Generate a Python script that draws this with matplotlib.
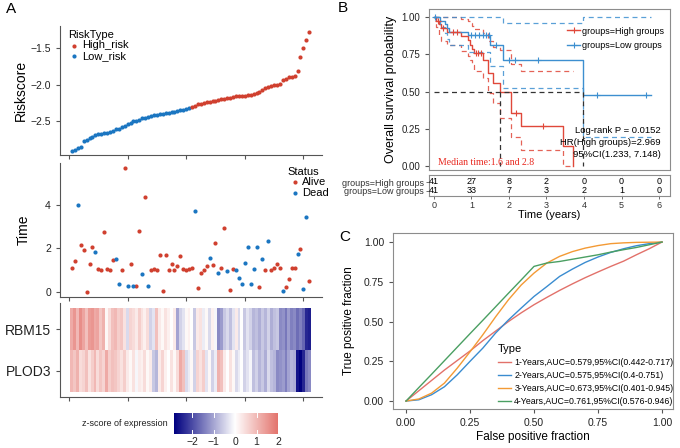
import numpy as np
import matplotlib
matplotlib.use('Agg')
import matplotlib.pyplot as plt
from matplotlib.colors import LinearSegmentedColormap, Normalize
from matplotlib.lines import Line2D

plt.rcParams['font.family'] = ['Liberation Sans', 'DejaVu Sans']

# ---------------- data: panel A ----------------
risk_low = [-2.90, -2.89, -2.86, -2.85, -2.77, -2.75, -2.73, -2.71, -2.69, -2.68,
            -2.67, -2.66, -2.66, -2.64, -2.63, -2.61, -2.60, -2.58, -2.56, -2.54,
            -2.52, -2.50, -2.49, -2.48, -2.46, -2.45, -2.44, -2.43, -2.42, -2.41,
            -2.40, -2.40, -2.39, -2.39, -2.38, -2.37, -2.36, -2.35, -2.34, -2.33, -2.32]
risk_high = [-2.30, -2.29, -2.27, -2.26, -2.25, -2.24, -2.24, -2.23, -2.22, -2.21,
             -2.20, -2.19, -2.18, -2.18, -2.17, -2.16, -2.16, -2.15, -2.15, -2.14,
             -2.14, -2.13, -2.12, -2.10, -2.07, -2.04, -2.03, -2.02, -2.01, -2.00,
             -1.99, -1.93, -1.92, -1.90, -1.89, -1.88, -1.81, -1.62, -1.50, -1.39, -1.28]

surv_time = [1.11, 1.42, 4.00, 2.14, 1.95, 0.00, 1.28, 2.09, 1.86, 1.05,
             1.02, 2.77, 1.06, 1.00, 1.49, 1.52, 0.35, 1.02, 5.68, 0.29,
             1.28, 0.28, 0.28, 2.82, 0.82, 4.35, 0.29, 1.00, 1.05, 1.02,
             1.72, 0.03, 1.69, 1.00, 1.28, 1.00, 1.20, 1.66, 1.08, 1.00,
             1.05, 1.11, 3.72, 0.17, 0.88, 1.02, 1.20, 1.55, 1.26, 2.25,
             0.89, 1.09, 2.92, 0.95, 0.09, 1.05, 1.02, 0.66, 0.37, 1.32,
             2.08, 0.35, 1.06, 2.08, 0.22, 1.51, 1.03, 2.34, 1.02, 1.12,
             1.29, 1.09, 0.05, 0.22, 0.62, 1.09, 1.09, 1.75, 1.98, 0.12,
             3.45, 0.51]
# 1 = dead, 0 = alive
status = [0, 0, 1, 0, 0, 0, 0, 0, 1, 0,
          0, 0, 0, 0, 0, 1, 1, 0, 0, 1,
          0, 1, 0, 0, 1, 0, 1, 0, 0, 0,
          0, 0, 0, 0, 0, 0, 0, 0, 0, 0,
          0, 0, 1, 0, 0, 0, 0, 1, 0, 0,
          1, 0, 0, 1, 0, 0, 1, 1, 1, 1,
          1, 1, 1, 1, 0, 1, 0, 1, 0, 0,
          0, 0, 1, 0, 0, 0, 0, 1, 0, 1,
          1, 0]

genes = ['RBM15', 'PLOD3']
rbm15 = [1.2, 1.5, 1.0, 1.6, 1.3, 0.9, 1.4, 1.5, 1.2, 1.3, 0.8, 1.1,
         0.1, 0.5,
         0.9, 1.0, 0.7, 0.8, 0.4,
         -0.4,
         0.6, 0.5, 0.3, 0.7, 0.4, 0.2, 0.5,
         -0.5, -0.3,
         0.9,
         0.3, 0.1, 0.4, 0.2, 0.0, 0.3,
         -1.0,
         -0.5, -0.3, 0.1,
         0.2, 0.0,
         -0.6,
         0.3, 0.4,
         -0.2, 0.1, -0.4, 0.2, -0.1,
         -1.3, -1.1,
         -0.6, -0.4, -0.7, -0.3,
         0.3,
         -0.4, 0.0, -0.6, -0.3, -0.5,
         -0.8, -0.7, -0.9, -0.6, -0.8, -0.5, -0.9, -0.7, -0.6,
         -1.3, -1.2, -1.5, -1.1, -1.4, -1.3,
         -1.6, -1.4, -1.7,
         -2.4, -2.5]
plod3 = [1.0, 0.8, 1.1, 0.5, 0.6, 0.9, 0.4, 0.7, 1.0, 0.5, 0.8, 0.6,
         1.2,
         0.7, 0.9, 0.8, 0.6, 0.4, 0.7,
         0.3, 0.1, 0.4, -0.1, 0.3, 0.2, 0.5, 0.1, 0.3,
         -0.6, -0.8,
         0.3, 0.6, 0.2, 0.0, 0.4, 0.1, 0.5,
         1.2, 0.9,
         -0.4, -0.2, 0.1, -0.5,
         0.6, 0.4, 0.7,
         -0.3, 0.1, -0.5, -0.2,
         1.1, 0.9,
         0.3, 0.0, 0.4, 0.1,
         -0.4, -0.2, 0.0, -0.5, -0.3, -0.1,
         -0.7, -0.5, -0.8, -0.6, -0.9, -0.4, -0.7, -0.8,
         -1.3, -1.2, -1.1, -1.4, -1.0,
         -0.8, -0.9,
         -2.6, -2.8, -2.4,
         -1.5, -1.3]
z_min, z_max = -2.84, 2.0

# ---------------- data: panel B ----------------
high_t = [0, 0.06, 0.13, 0.2, 0.36, 0.73, 0.92, 0.97, 1.02, 1.08, 1.31, 1.44,
          1.57, 1.75, 2.06, 2.33, 3.43, 3.7]
high_s = [1.0, 0.976, 0.951, 0.925, 0.898, 0.872, 0.845, 0.815, 0.785, 0.757,
          0.714, 0.624, 0.557, 0.495, 0.356, 0.266, 0.133, 0.0]
high_lo = [1.0, 0.93, 0.88, 0.84, 0.81, 0.77, 0.74, 0.71, 0.68, 0.64, 0.59,
           0.49, 0.42, 0.32, 0.196, 0.11, 0.0, 0.0]
high_up = [1.0, 1.0, 1.0, 1.0, 1.0, 0.99, 0.975, 0.96, 0.94, 0.92, 0.89, 0.84,
           0.80, 0.776, 0.687, 0.635, 0.635, np.nan]
high_cens = [0.1, 0.25, 0.5, 0.62, 1.12, 1.18, 1.25, 2.2, 2.9]

low_t = [0, 0.15, 0.3, 0.35, 0.4, 0.9, 1.5, 1.84, 3.96, 5.78]
low_s = [1.0, 0.976, 0.951, 0.927, 0.902, 0.878, 0.81, 0.714, 0.474, 0.474]
low_lo = [1.0, 0.93, 0.89, 0.85, 0.81, 0.765, 0.67, 0.526, 0.195, 0.195]
low_up = [1.0, 1.0, 1.0, 1.0, 1.0, 1.0, 1.0, 0.963, 1.0, 1.0]
low_cens = [0.02, 1.0, 1.1, 1.2, 1.3, 1.4, 1.48, 1.66, 2.0, 2.15, 2.77, 4.35, 5.65]

median_high, median_low = 1.75, 3.96
table_times = [0, 1, 2, 3, 4, 5, 6]
at_risk_high = [41, 27, 8, 2, 0, 0, 0]
at_risk_low = [41, 33, 7, 3, 2, 1, 0]

# ---------------- data: panel C ----------------
fpr = [0, 0.05, 0.1, 0.15, 0.2, 0.25, 0.3, 0.35, 0.4, 0.45, 0.5,
       0.55, 0.6, 0.65, 0.7, 0.75, 0.8, 0.85, 0.9, 0.95, 1.0]
tpr_1y = [0, 0.065, 0.13, 0.195, 0.255, 0.315, 0.38, 0.44, 0.5, 0.555, 0.606,
          0.652, 0.696, 0.737, 0.776, 0.812, 0.847, 0.88, 0.92, 0.958, 1.0]
tpr_2y = [0, 0.008, 0.04, 0.09, 0.165, 0.25, 0.333, 0.428, 0.51, 0.585, 0.658,
          0.72, 0.784, 0.83, 0.872, 0.906, 0.935, 0.958, 0.977, 0.99, 1.0]
tpr_3y = [0, 0.013, 0.05, 0.113, 0.207, 0.31, 0.417, 0.53, 0.637, 0.73, 0.805,
          0.868, 0.91, 0.94, 0.962, 0.978, 0.99, 0.995, 0.998, 0.999, 1.0]
tpr_4y = [0, 0.085, 0.169, 0.254, 0.339, 0.424, 0.508, 0.593, 0.678, 0.762, 0.847,
          0.868, 0.878, 0.892, 0.906, 0.92, 0.937, 0.952, 0.966, 0.983, 1.0]
roc_labels = ['1-Years,AUC=0.579,95%CI(0.442-0.717)',
              '2-Years,AUC=0.575,95%CI(0.4-0.751)',
              '3-Years,AUC=0.673,95%CI(0.401-0.945)',
              '4-Years,AUC=0.761,95%CI(0.576-0.946)']

# ---------------- layout helpers ----------------
W, H = 680, 448
def rect(l, t, r, b):
    return [l / W, 1 - b / H, (r - l) / W, (b - t) / H]

RED = '#D0402F'
BLUE = '#1B76C1'
KM_RED = '#E0483A'
KM_BLUE = '#3D8FD0'
SPINE = '#555555'
BOX = '#8C8C8C'

fig = plt.figure(figsize=(6.8, 4.48), dpi=100)

def classic(ax):
    for s in ['top', 'right']:
        ax.spines[s].set_visible(False)
    for s in ['left', 'bottom']:
        ax.spines[s].set_color(SPINE)
        ax.spines[s].set_linewidth(0.8)
    ax.tick_params(colors=SPINE, labelcolor='#222222', labelsize=7.5, length=3, width=0.8)

n = len(risk_low) + len(risk_high)
idx = np.arange(1, n + 1)
xl = (-3.07, 86.35)

# A top: risk score
ax1 = fig.add_axes(rect(60, 26, 322, 155))
classic(ax1)
ax1.scatter(idx[:len(risk_low)], risk_low, s=9, color=BLUE, lw=0, label='Low_risk')
ax1.scatter(idx[len(risk_low):], risk_high, s=9, color=RED, lw=0, label='High_risk')
ax1.set_xlim(*xl)
ax1.set_ylim(-2.96, -1.2)
ax1.set_yticks([-2.5, -2.0, -1.5])
ax1.set_xticks([0, 20, 40, 60, 80])
ax1.set_xticklabels([])
ax1.set_ylabel('Riskscore', fontsize=10, labelpad=2)
h, l = ax1.get_legend_handles_labels()
lg = ax1.legend(h[::-1], l[::-1], title='RiskType', loc='upper left',
                bbox_to_anchor=(0.0, 1.03), frameon=False, fontsize=8,
                title_fontsize=8, handletextpad=0.1, labelspacing=0.05,
                borderpad=0.2, markerscale=1.0, handlelength=1.2)
lg._legend_box.align = 'left'

# A mid: survival time
ax2 = fig.add_axes(rect(60, 163, 322, 297))
classic(ax2)
st = np.array(surv_time)
stat = np.array(status)
ax2.scatter(idx[stat == 0], st[stat == 0], s=9, color=RED, lw=0, label='Alive')
ax2.scatter(idx[stat == 1], st[stat == 1], s=9, color=BLUE, lw=0, label='Dead')
ax2.set_xlim(*xl)
ax2.set_ylim(-0.23, 5.93)
ax2.set_yticks([0, 2, 4])
ax2.set_xticks([0, 20, 40, 60, 80])
ax2.set_xticklabels([])
ax2.set_ylabel('Time', fontsize=10, labelpad=10)
lg2 = ax2.legend(title='Status', loc='upper left', bbox_to_anchor=(0.84, 1.03),
                 frameon=False, fontsize=8, title_fontsize=8, handletextpad=0.1,
                 labelspacing=0.05, borderpad=0.2, handlelength=1.2)
lg2._legend_box.align = 'left'

# A bottom: heatmap
cmap = LinearSegmentedColormap.from_list('zs', ['#000080', '#FFFFFF', '#D83A30'])
norm = Normalize(vmin=-2.84, vmax=2.84)
ax3 = fig.add_axes(rect(60, 303, 322, 397))
classic(ax3)
ax3.imshow(np.array([rbm15, plod3]), aspect='auto', cmap=cmap, norm=norm,
           extent=(0.5, n + 0.5, 1.5, -0.5), interpolation='nearest')
ax3.set_xlim(*xl)
ax3.set_ylim(1.62, -0.62)
ax3.set_yticks([0, 1])
ax3.set_yticklabels(genes, fontsize=10)
ax3.set_xticks([0, 20, 40, 60, 80])
ax3.set_xticklabels([])

# colour bar
axc = fig.add_axes(rect(174, 413, 278, 434))
grad = np.linspace(z_min, z_max, 300)[None, :]
axc.imshow(grad, aspect='auto', cmap=cmap, norm=norm, extent=(z_min, z_max, 0, 1))
for s in axc.spines.values():
    s.set_visible(False)
axc.set_yticks([])
axc.set_xticks([-2, -1, 0, 1, 2])
axc.tick_params(length=0, labelsize=7.5, labelcolor='#222222', pad=2)
for v in [-2, -1, 0, 1, 2]:
    axc.plot([v, v], [0, 0.2], color='white', lw=0.7)
    axc.plot([v, v], [0.8, 1], color='white', lw=0.7)
axc.set_xlim(z_min, z_max)
axc.set_ylim(0, 1)
fig.text(168 / W, 1 - 423 / H, 'z-score of expression', fontsize=6.5,
         ha='right', va='center', color='#222222')

# B: Kaplan-Meier
axk = fig.add_axes(rect(429, 9, 670, 170))
for s in axk.spines.values():
    s.set_color(BOX)
    s.set_linewidth(0.8)
axk.tick_params(labelsize=7, colors=SPINE, labelcolor='#222222', length=3, width=0.8)
dash = (4, 3)
for t, s_, lo, up, col in [(high_t, high_s, high_lo, high_up, KM_RED),
                           (low_t, low_s, low_lo, low_up, KM_BLUE)]:
    axk.step(t, s_, where='post', color=col, lw=1.0)
    axk.step(t, lo, where='post', color=col, lw=0.9, ls=(0, dash), alpha=0.85)
    axk.step(t, up, where='post', color=col, lw=0.9, ls=(0, dash), alpha=0.85)
for ct, t, s_, col in [(high_cens, high_t, high_s, KM_RED), (low_cens, low_t, low_s, KM_BLUE)]:
    pos = np.searchsorted(t, ct, side='right') - 1
    axk.plot(ct, np.array(s_)[pos], ls='none', marker='+', ms=5, mew=0.8, color=col)
axk.plot([0, median_low], [0.5, 0.5], color='#333333', lw=0.9, ls=(0, dash))
axk.plot([median_high, median_high], [0.5, 0], color='#333333', lw=0.9, ls=(0, dash))
axk.plot([median_low, median_low], [0.5, 0], color='#333333', lw=0.9, ls=(0, dash))
axk.set_xlim(-0.133, 6.293)
axk.set_ylim(-0.027, 1.054)
axk.set_yticks([0, 0.25, 0.5, 0.75, 1.0])
axk.set_yticklabels(['0.00', '0.25', '0.50', '0.75', '1.00'])
axk.set_xticks([])
axk.set_ylabel('Overall survival probability', fontsize=9, labelpad=3)
km_handles = [Line2D([], [], color=KM_RED, lw=1.0, marker='+', ms=5, mew=0.8),
              Line2D([], [], color=KM_BLUE, lw=1.0, marker='+', ms=5, mew=0.8)]
axk.legend(km_handles, ['groups=High groups', 'groups=Low groups'], loc='upper right',
           bbox_to_anchor=(1.0, 0.93), frameon=False, fontsize=6.5, handlelength=1.4,
           handletextpad=0.2, labelspacing=0.6, borderpad=0.2)
axk.text(0.1, -0.005, 'Median time:1.6 and 2.8', color='#E8271E', fontsize=7,
         family=['Liberation Serif', 'DejaVu Serif'], va='bottom')
axk.text(6.05, 0.24, 'Log-rank P = 0.0152', fontsize=6.8, ha='right', va='center')
axk.text(6.05, 0.16, 'HR(High groups)=2.969', fontsize=6.8, ha='right', va='center')
axk.text(6.05, 0.08, '95%CI(1.233, 7.148)', fontsize=6.8, ha='right', va='center')

# B: risk table
axt = fig.add_axes(rect(429, 175, 670, 196))
for s in axt.spines.values():
    s.set_color(BOX)
    s.set_linewidth(0.8)
for tt in table_times:
    axt.axvline(tt, color='#EBEBEB', lw=0.5, zorder=0)
for tt, a, b in zip(table_times, at_risk_high, at_risk_low):
    axt.text(tt, 1, str(a), ha='center', va='center', fontsize=6.5)
    axt.text(tt, 0, str(b), ha='center', va='center', fontsize=6.5)
axt.set_xlim(-0.133, 6.293)
axt.set_ylim(-0.56, 1.78)
axt.set_yticks([1, 0])
axt.set_yticklabels(['groups=High groups', 'groups=Low groups'], fontsize=5.5)
axt.set_xticks(table_times)
axt.tick_params(labelsize=6.5, colors=SPINE, labelcolor='#333333', length=2, width=0.6, pad=1.5)
axt.set_xlabel('Time (years)', fontsize=8, labelpad=0)

# C: ROC
axr = fig.add_axes(rect(393, 233, 673, 409))
for s in axr.spines.values():
    s.set_color(BOX)
    s.set_linewidth(0.8)
axr.tick_params(labelsize=7.5, colors=SPINE, labelcolor='#222222', length=3, width=0.8)
roc_cols = ['#E2716A', '#3A8CD0', '#F39A35', '#4A9F62']
for tp, c, lab in zip([tpr_1y, tpr_2y, tpr_3y, tpr_4y], roc_cols, roc_labels):
    axr.plot(fpr, tp, color=c, lw=1.0, label=lab)
axr.set_xlim(-0.051, 1.043)
axr.set_ylim(-0.05, 1.057)
ticks = [0, 0.25, 0.5, 0.75, 1.0]
axr.set_xticks(ticks)
axr.set_yticks(ticks)
axr.set_xticklabels(['0.00', '0.25', '0.50', '0.75', '1.00'])
axr.set_yticklabels(['0.00', '0.25', '0.50', '0.75', '1.00'])
axr.set_xlabel('False positive fraction', fontsize=8.5, labelpad=2)
axr.set_ylabel('True positive fraction', fontsize=8.5, labelpad=6)
lg3 = axr.legend(title='Type', loc='upper left', bbox_to_anchor=(0.355, 0.40),
                 frameon=False, fontsize=6.3, title_fontsize=8, handlelength=1.5,
                 handletextpad=0.4, labelspacing=0.45, borderpad=0.1)
lg3._legend_box.align = 'left'

fig.text(6 / W, 1 - 9 / H, 'A', fontsize=11, va='center')
fig.text(338 / W, 1 - 8 / H, 'B', fontsize=11, va='center')
fig.text(339 / W, 1 - 237 / H, 'C', fontsize=11, va='center')

fig.savefig('out.png', dpi=100)
